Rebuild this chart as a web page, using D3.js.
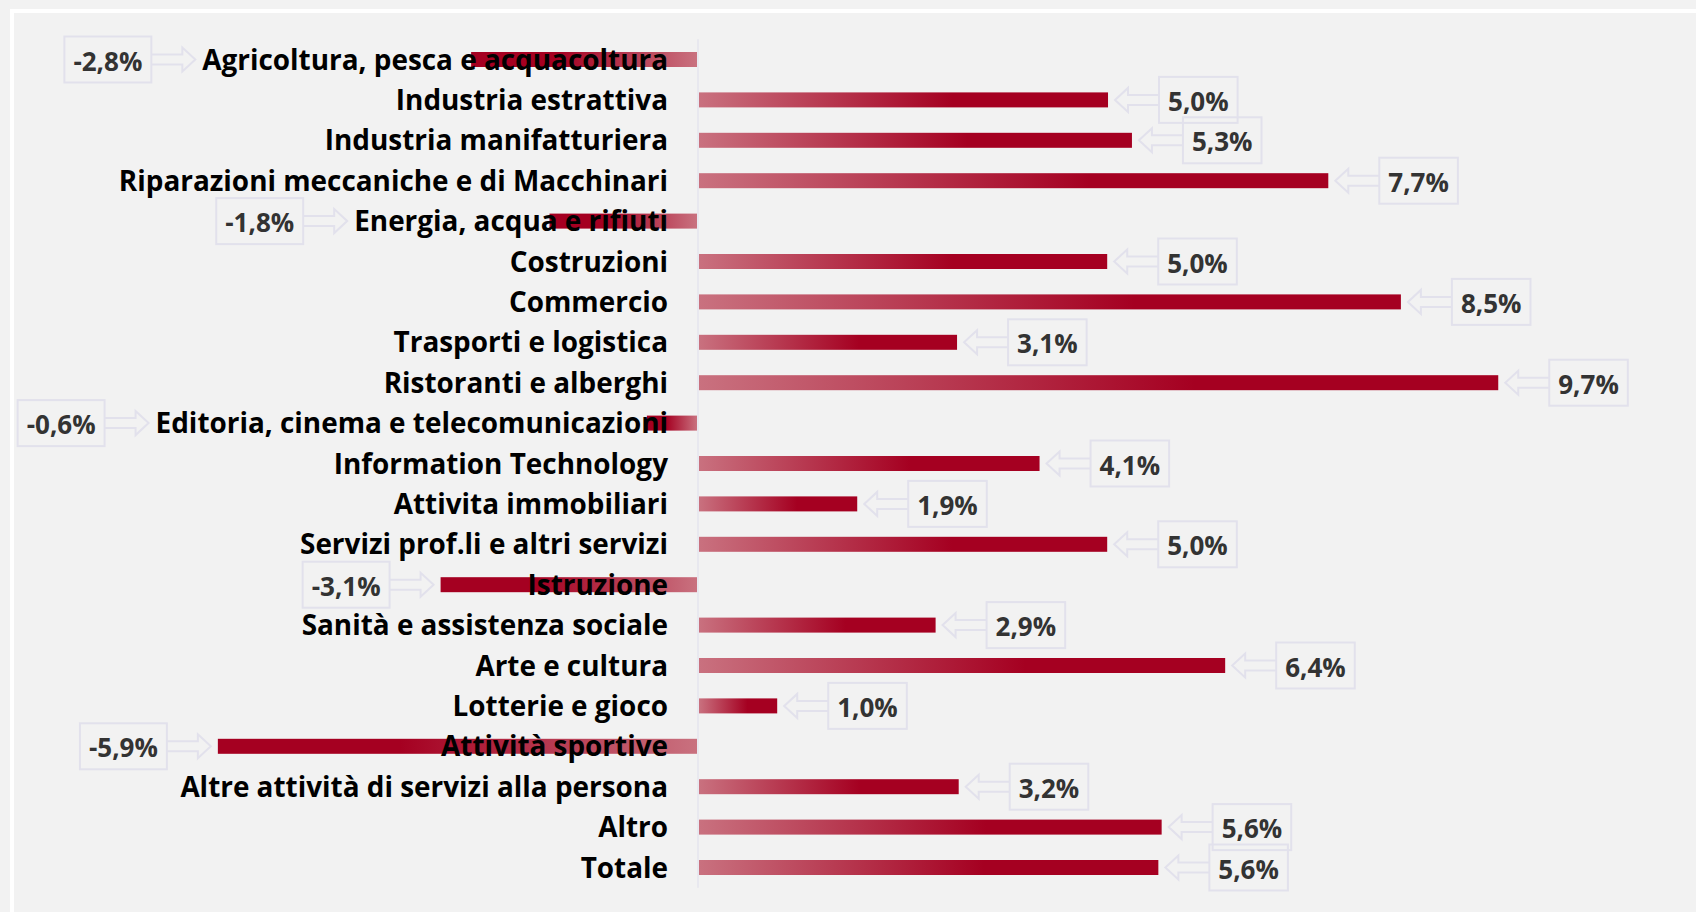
<!DOCTYPE html>
<html><head><meta charset="utf-8">
<script src="https://cdn.jsdelivr.net/npm/d3@7"></script>
<style>
html,body{margin:0;padding:0;background:#f2f2f2;}
svg{display:block;}
</style></head>
<body>
<script>
const categories = [
  "Agricoltura, pesca e acquacoltura",
  "Industria estrattiva",
  "Industria manifatturiera",
  "Riparazioni meccaniche e di Macchinari",
  "Energia, acqua e rifiuti",
  "Costruzioni",
  "Commercio",
  "Trasporti e logistica",
  "Ristoranti e alberghi",
  "Editoria, cinema e telecomunicazioni",
  "Information Technology",
  "Attivita immobiliari",
  "Servizi prof.li e altri servizi",
  "Istruzione",
  "Sanità e assistenza sociale",
  "Arte e cultura",
  "Lotterie e gioco",
  "Attività sportive",
  "Altre attività di servizi alla persona",
  "Altro",
  "Totale"
];
// bar lengths (unrounded estimates)
const values = [-2.75, 4.97, 5.26, 7.64, -1.80, 4.96, 8.52, 3.14, 9.70, -0.62, 4.14, 1.93, 4.96, -3.12, 2.88, 6.39, 0.96, -5.82, 3.16, 5.62, 5.58];
const valueLabels = ["-2,8%","5,0%","5,3%","7,7%","-1,8%","5,0%","8,5%","3,1%","9,7%","-0,6%","4,1%","1,9%","5,0%","-3,1%","2,9%","6,4%","1,0%","-5,9%","3,2%","5,6%","5,6%"];

const data = categories.map((c,i)=>({cat:c, v:values[i], lab:valueLabels[i], i}));

const W = 1696, H = 912;
const svg = d3.select("body").append("svg").attr("width",W).attr("height",H);

svg.append("rect").attr("width",W).attr("height",H).attr("fill","#f2f2f2");
// white frame lines (top and left)
svg.append("rect").attr("x",10).attr("y",9).attr("width",W-10).attr("height",4).attr("fill","#ffffff");
svg.append("rect").attr("x",10).attr("y",9).attr("width",4).attr("height",H-9).attr("fill","#ffffff");

const x = d3.scaleLinear().domain([-1, 10]).range([698 - 82.5, 698 + 82.5*10]);
const y = d3.scaleBand().domain(categories).range([39.3, 887.7]).paddingInner(0.63).paddingOuter(0.315);
const cy = d => y(d.cat) + y.bandwidth()/2;
const barH = 15;

const defs = svg.append("defs");
const gp = defs.append("linearGradient").attr("id","gpos").attr("x1","0").attr("x2","1").attr("y1","0").attr("y2","0");
gp.append("stop").attr("offset","0").attr("stop-color","#c9717f");
gp.append("stop").attr("offset","0.62").attr("stop-color","#a50021");
gp.append("stop").attr("offset","1").attr("stop-color","#a50021");
const gn = defs.append("linearGradient").attr("id","gneg").attr("x1","1").attr("x2","0").attr("y1","0").attr("y2","0");
gn.append("stop").attr("offset","0").attr("stop-color","#c9717f");
gn.append("stop").attr("offset","0.62").attr("stop-color","#a50021");
gn.append("stop").attr("offset","1").attr("stop-color","#a50021");

// zero axis line
svg.append("line").attr("x1",x(0)).attr("x2",x(0)).attr("y1",y.range()[0]).attr("y2",y.range()[1])
  .attr("stroke","#e4e4ee").attr("stroke-width",1.5);

// bars
svg.append("g").selectAll("rect").data(data).join("rect")
  .attr("x", d => d.v >= 0 ? x(0)+1 : x(d.v))
  .attr("width", d => Math.abs(x(d.v) - x(0)) - 1)
  .attr("y", d => cy(d) - barH/2)
  .attr("height", barH)
  .attr("fill", d => d.v >= 0 ? "url(#gpos)" : "url(#gneg)");

// category labels
const labelRight = x(0) - 30;
const catText = svg.append("g").selectAll("text").data(data).join("text")
  .attr("x", labelRight)
  .attr("y", d => cy(d) + 10)
  .attr("text-anchor","end")
  .attr("font-family","'Open Sans', sans-serif")
  .attr("font-weight","700")
  .attr("font-size", 27.9)
  .attr("fill","#000")
  .text(d => d.cat);

const catWidths = [];
catText.each(function(d){ catWidths[d.i] = this.getComputedTextLength(); });

// value labels
const boxH = 46, pad = 9, arrowLen = 44, headLen = 13, headHalf = 12, shaftHalf = 5, gap = 7;
const lg = svg.append("g");
data.forEach(d => {
  const c = cy(d);
  const t = lg.append("text")
    .attr("font-family","'Open Sans', sans-serif")
    .attr("font-weight","700")
    .attr("font-size", 26)
    .attr("fill","#333333")
    .attr("text-anchor","middle")
    .text(d.lab);
  const tw = t.node().getComputedTextLength();
  const bw = tw + 2*pad;
  let tip, boxX, path;
  if (d.v >= 0) {
    tip = x(d.v) + gap;
    boxX = tip + arrowLen;
    path = `M${boxX},${c-shaftHalf} L${tip+headLen},${c-shaftHalf} L${tip+headLen},${c-headHalf} L${tip},${c} L${tip+headLen},${c+headHalf} L${tip+headLen},${c+shaftHalf} L${boxX},${c+shaftHalf}`;
  } else {
    const textStart = labelRight - catWidths[d.i];
    tip = Math.min(x(d.v), textStart) - gap;
    const boxR = tip - arrowLen;
    boxX = boxR - bw;
    path = `M${boxR},${c-shaftHalf} L${tip-headLen},${c-shaftHalf} L${tip-headLen},${c-headHalf} L${tip},${c} L${tip-headLen},${c+headHalf} L${tip-headLen},${c+shaftHalf} L${boxR},${c+shaftHalf}`;
  }
  lg.insert("path","text").attr("d",path).attr("fill","none").attr("stroke","#e2e1ec").attr("stroke-width",2);
  lg.insert("rect","text").attr("x",boxX).attr("y",c-boxH/2).attr("width",bw).attr("height",boxH)
    .attr("fill","none").attr("stroke","#e2e1ec").attr("stroke-width",2);
  t.attr("x", boxX + bw/2).attr("y", c + 11);
});
</script>
</body></html>
